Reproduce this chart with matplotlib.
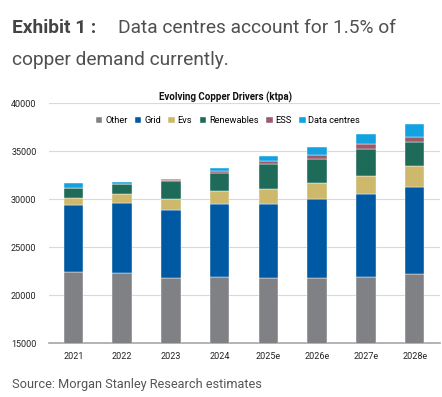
import numpy as np
import matplotlib
matplotlib.use('Agg')
import matplotlib.pyplot as plt

plt.rcParams['font.family'] = ['Roboto', 'DejaVu Sans']

years = ['2021', '2022', '2023', '2024', '2025e', '2026e', '2027e', '2028e']

# ktpa
other = [22450, 22290, 21800, 21910, 21770, 21770, 21880, 22220]
grid = [6950, 7360, 7090, 7600, 7740, 8260, 8680, 9060]
evs = [730, 870, 1140, 1360, 1560, 1700, 1870, 2160]
renewables = [1000, 1040, 1850, 1900, 2610, 2470, 2850, 2560]
ess = [80, 60, 140, 210, 310, 450, 520, 520]
data_centres = [450, 180, 110, 320, 520, 770, 1000, 1320]

series = [
    ('Other', other, '#808185'),
    ('Grid', grid, '#0059A3'),
    ('Evs', evs, '#CDB86C'),
    ('Renewables', renewables, '#1E6B59'),
    ('ESS', ess, '#9C5A6B'),
    ('Data centres', data_centres, '#12A2E0'),
]

fig = plt.figure(figsize=(4.42, 3.97), dpi=100)
ax = fig.add_axes([0.1109, 0.1353, 0.8846, 0.6045])

x = np.arange(len(years))
bottom = np.zeros(len(years))
for name, vals, col in series:
    ax.bar(x, vals, 0.4, bottom=bottom, color=col, label=name,
           edgecolor='#ffffff', linewidth=0.3, zorder=3)
    bottom += np.array(vals)

ax.set_ylim(15000, 40000)
ax.set_xlim(-0.5, 7.52)
ax.set_yticks(range(15000, 40001, 5000))
ax.set_xticks(x)
ax.set_xticklabels(years)
ax.grid(axis='y', color='#d9d9d9', linewidth=0.8, zorder=0)
for s in ['top', 'right', 'left']:
    ax.spines[s].set_visible(False)
ax.spines['bottom'].set_color('#a6a6a6')
ax.spines['bottom'].set_linewidth(1.2)
ax.tick_params(axis='both', length=0, labelsize=6.5, colors='#222222')
ax.tick_params(axis='x', pad=6)
ax.tick_params(axis='y', pad=9)

leg = ax.legend(loc='center', bbox_to_anchor=(0.458, 0.9275), ncol=6,
                frameon=False, fontsize=6.7, handlelength=0.7, handleheight=0.7,
                handletextpad=0.3, columnspacing=0.8, borderaxespad=0)

fig.text(0.511, 0.756, 'Evolving Copper Drivers (ktpa)', ha='center', va='center',
         fontsize=7, fontweight='bold', color='#111111')

# header
fig.text(0.027, 0.917, 'Exhibit 1 :', fontsize=13.8, fontweight='bold',
         color='#444444', va='baseline')
fig.text(0.267, 0.917, 'Data centres account for 1.5% of', fontsize=13.8,
         color='#505050', va='baseline')
fig.text(0.027, 0.836, 'copper demand currently.', fontsize=13.8,
         color='#505050', va='baseline')

fig.text(0.027, 0.023, 'Source: Morgan Stanley Research estimates', fontsize=9.2,
         color='#555555', va='baseline')

fig.savefig('out.png', dpi=100)
